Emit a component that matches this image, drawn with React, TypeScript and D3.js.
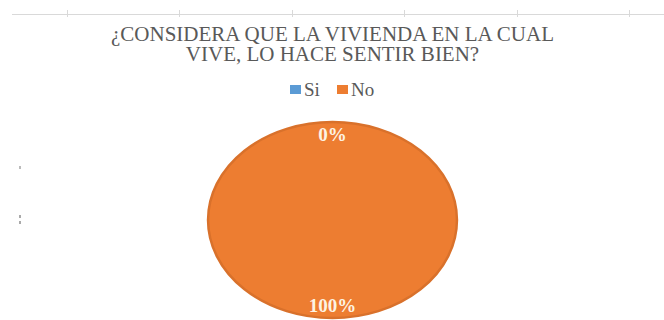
import React from "react";
import * as d3 from "d3";

const categories = ["Si", "No"];
const values = [0, 100];
const labels = ["0%", "100%"];
const titleLines = ["¿CONSIDERA QUE LA VIVIENDA EN LA CUAL", "VIVE, LO HACE SENTIR BIEN?"];
const colors = ["#5B9BD5", "#ED7D31"];
const topTicks = [67, 179, 292, 404, 517, 629];

const W = 664;
const H = 320;
const SX = 1.27; // horizontal stretch of the original picture (pie drawn as ellipse)
const cx = 332.5;
const cy = 220;
const ry = 98;
const FONT = "Liberation Serif";
const fontStyle = { fontFamily: "'Liberation Serif', 'Times New Roman', serif" };

export default function App() {
  const pie = d3.pie<number>().sort(null).value((d) => d)(values);
  const arc = d3.arc<d3.PieArcDatum<number>>().innerRadius(0).outerRadius(ry);
  const labelArc = d3.arc<d3.PieArcDatum<number>>().innerRadius(ry * 0.87).outerRadius(ry * 0.87);

  return (
    <svg
      width={W}
      height={H}
      fontFamily={FONT}
      style={{ position: "absolute", left: 0, top: 0, background: "#fff", ...fontStyle }}
    >
      <line x1={12} x2={W} y1={14.5} y2={14.5} stroke="#d9d9d9" strokeWidth={1} />
      {topTicks.map((x) => (
        <line key={x} x1={x + 0.5} x2={x + 0.5} y1={10} y2={17} stroke="#d9d9d9" strokeWidth={1} />
      ))}
      <rect x={19} y={166} width={2} height={3} fill="#bbb" />
      <rect x={19} y={215} width={2} height={3} fill="#aaa" />
      <rect x={19} y={221} width={2} height={3} fill="#aaa" />

      {titleLines.map((t, i) => (
        <text
          key={i}
          x={cx}
          y={41 + i * 19.5}
          textAnchor="middle"
          fontFamily={FONT}
          style={fontStyle}
          fontSize={21}
          fill="#595959"
        >
          {t}
        </text>
      ))}
      {categories.map((c, i) => {
        const x0 = [290, 337][i];
        return (
          <g key={c}>
            <rect x={x0} y={85} width={11} height={9} fill={colors[i]} />
            <text x={x0 + 14} y={96} fontFamily={FONT} style={fontStyle} fontSize={19} fill="#595959">
              {c}
            </text>
          </g>
        );
      })}
      <g transform={`translate(${cx},${cy}) scale(${SX},1)`}>
        {pie.map((d, i) => (
          <path
            key={i}
            d={arc(d) || ""}
            fill={colors[i]}
            stroke="#D9712B"
            strokeWidth={2.5}
            vectorEffect="non-scaling-stroke"
          />
        ))}
      </g>
      {pie.map((d, i) => {
        const [lx, ly] = labelArc.centroid(d);
        return (
          <text
            key={"l" + i}
            x={cx + lx * SX}
            y={cy + ly}
            dy="0.35em"
            textAnchor="middle"
            fontFamily={FONT}
            style={fontStyle}
            fontWeight="bold"
            fontSize={19}
            fill="#FDF3E3"
          >
            {labels[i]}
          </text>
        );
      })}
    </svg>
  );
}
